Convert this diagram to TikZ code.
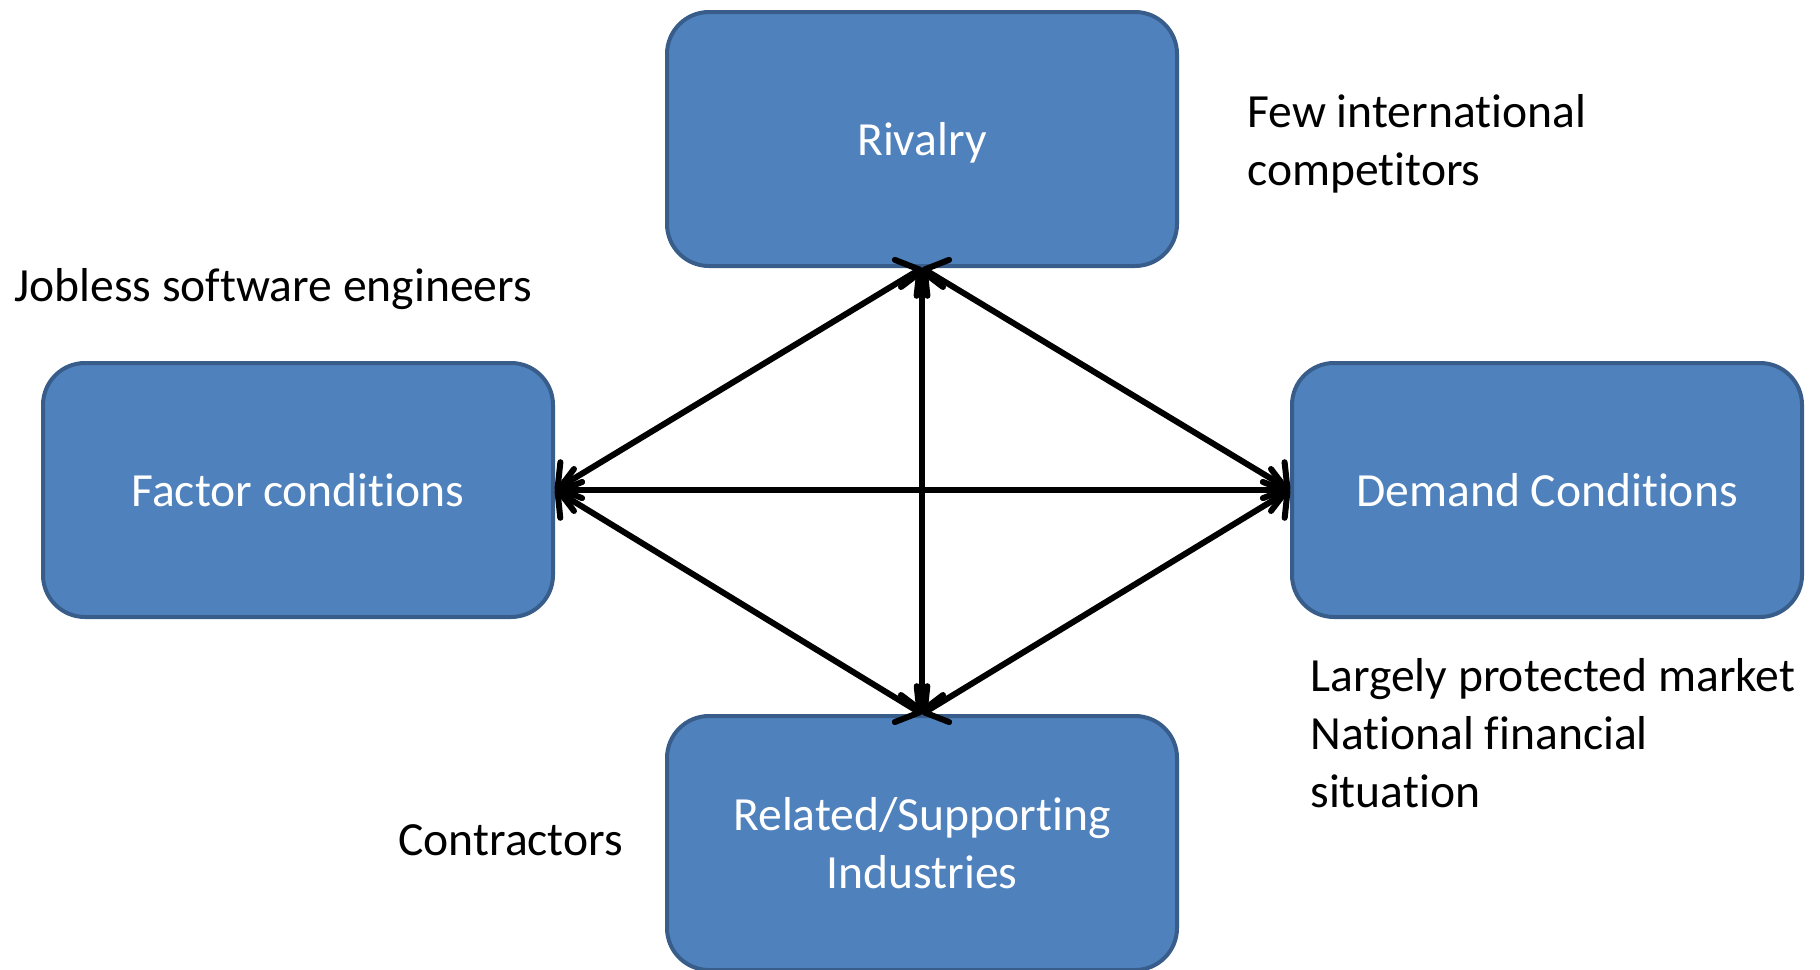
\documentclass[tikz,border=0pt]{standalone}
\usepackage{fontspec}
\setmainfont{Carlito}[RawFeature={-liga;-clig;-calt;-dlig}]
\usetikzlibrary{arrows.meta}
\definecolor{boxfill}{HTML}{4F81BD}
\definecolor{boxline}{HTML}{385D8A}
\begin{document}
\begin{tikzpicture}[x=0.5pt,y=-0.5pt,
  font=\fontsize{23.8pt}{29pt}\selectfont,
  force/.style={rectangle,rounded corners=21pt,fill=boxfill,draw=boxline,
    line width=2pt,minimum width=255pt,minimum height=127pt,
    text=white,align=center,inner sep=0pt},
  note/.style={anchor=west,align=left,inner sep=0pt,text=black},
  link/.style={line width=3pt,
    {Straight Barb[length=8pt,width=21pt,round]}-{Straight Barb[length=8pt,width=21pt,round]}}]
\useasboundingbox (0,0) rectangle (1820,969);

% the four determinants
\node[force] (riv) at (922,139) {\raisebox{-1.8pt}[\height][\depth]{Rivalry}};
\node[force] (fac) at (298,490) {Factor conditions};
\node[force] (dem) at (1547,490) {Demand Conditions};
\node[force] (rel) at (922,843) {Related/Supporting\\Industries};

% connections between every pair
\draw[link] (riv.south) -- (fac.east);
\draw[link] (riv.south) -- (dem.west);
\draw[link] (riv.south) -- (rel.north);
\draw[link] (fac.east) -- (dem.west);
\draw[link] (fac.east) -- (rel.north);
\draw[link] (dem.west) -- (rel.north);

% notes
\node[note] (nriv) at (1247,144) {Few international\\competitors};
\node[note] (nfac) at (14,289) {Jobless software engineers};
\node[note] (ndem) at (1310,733) {Largely protected market\\National financial\\situation};
\node[note] (nrel) at (398,840) {Contractors};
\end{tikzpicture}
\end{document}
